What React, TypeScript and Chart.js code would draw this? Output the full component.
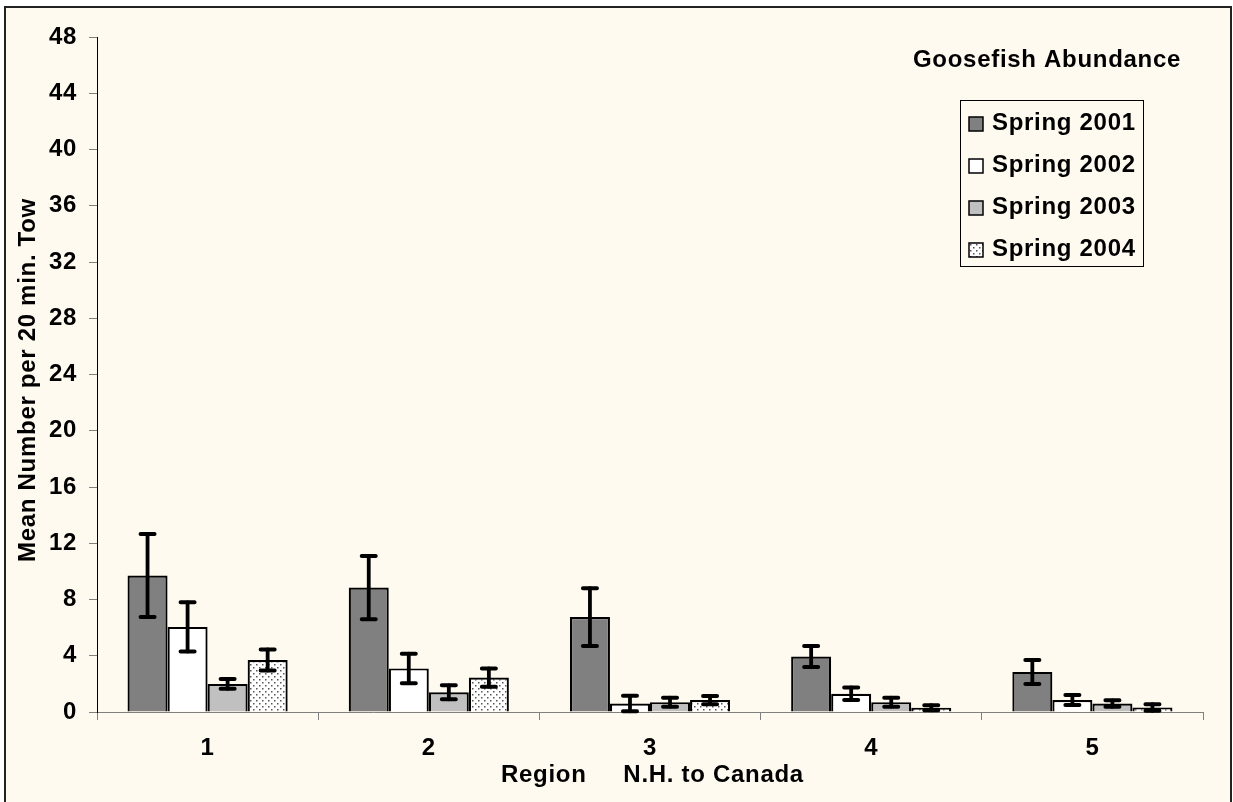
import React, { useEffect, useRef } from "react";
import { Chart, registerables } from "chart.js";

Chart.register(...registerables);

const categories = ["1", "2", "3", "4", "5"];
const seriesNames = ["Spring 2001", "Spring 2002", "Spring 2003", "Spring 2004"];
const spring2001 = [9.7, 8.85, 6.75, 3.95, 2.85];
const spring2002 = [6.05, 3.1, 0.6, 1.3, 0.85];
const spring2003 = [2.0, 1.4, 0.7, 0.7, 0.6];
const spring2004 = [3.7, 2.45, 0.85, 0.3, 0.32];
const err2001 = [2.95, 2.25, 2.05, 0.75, 0.85];
const err2002 = [1.75, 1.05, 0.55, 0.45, 0.36];
const err2003 = [0.35, 0.5, 0.32, 0.32, 0.23];
const err2004 = [0.75, 0.65, 0.29, 0.18, 0.23];
const yTicks = [0, 4, 8, 12, 16, 20, 24, 28, 32, 36, 40, 44, 48];
const chartTitle = "Goosefish Abundance";
const yTitle = "Mean Number per 20 min. Tow";
const xTitle = "Region     N.H. to Canada";

const CREAM = "#FFFAF0";
const FONT = "'Liberation Sans', Arial, sans-serif";
const SPACING = "0.7px";

function makeDotPattern(ctx: CanvasRenderingContext2D) {
  const c = document.createElement("canvas");
  c.width = 6;
  c.height = 6;
  const p = c.getContext("2d")!;
  p.fillStyle = "#ffffff";
  p.fillRect(0, 0, 6, 6);
  p.fillStyle = "#555555";
  p.fillRect(1, 1, 1.5, 1.5);
  p.fillRect(4, 4, 1.5, 1.5);
  return ctx.createPattern(c, "repeat");
}

export default function App() {
  const ref = useRef<HTMLCanvasElement | null>(null);

  useEffect(() => {
    const canvas = ref.current!;
    const ctx = canvas.getContext("2d")!;
    const pattern = makeDotPattern(ctx);
    const values = [spring2001, spring2002, spring2003, spring2004];
    const errors = [err2001, err2002, err2003, err2004];
    const fills: any[] = ["#808080", "#FFFFFF", "#C0C0C0", pattern];

    const bgPlugin = {
      id: "bg",
      beforeDraw(chart: any) {
        const c = chart.ctx;
        c.save();
        c.fillStyle = "#ffffff";
        c.fillRect(0, 0, chart.width, chart.height);
        c.fillStyle = CREAM;
        c.fillRect(5, 7, 1226, 800);
        c.strokeStyle = "#222222";
        c.lineWidth = 2;
        c.strokeRect(5, 7, 1226, 810);
        c.restore();
        c.letterSpacing = SPACING;
      },
    };

    const errPlugin = {
      id: "errbars",
      afterDatasetsDraw(chart: any) {
        const c = chart.ctx;
        const ys = chart.scales.y;
        c.save();
        c.strokeStyle = "#000000";
        c.lineCap = "round";
        values.forEach((vals, di) => {
          const meta = chart.getDatasetMeta(di);
          meta.data.forEach((el: any, i: number) => {
            const v = vals[i];
            const e = errors[di][i];
            const top = ys.getPixelForValue(v + e);
            const bot = ys.getPixelForValue(Math.max(v - e, 0));
            c.lineWidth = 3.8;
            c.beginPath();
            c.moveTo(el.x, top);
            c.lineTo(el.x, bot);
            c.stroke();
            c.lineWidth = 4;
            c.beginPath();
            c.moveTo(el.x - 7, top);
            c.lineTo(el.x + 7, top);
            c.moveTo(el.x - 7, bot);
            c.lineTo(el.x + 7, bot);
            c.stroke();
          });
        });
        c.restore();
      },
    };

    const textPlugin = {
      id: "texts",
      afterDraw(chart: any) {
        const c = chart.ctx;
        c.save();
        c.letterSpacing = SPACING;
        c.fillStyle = "#000000";
        c.font = `bold 24px ${FONT}`;
        c.textBaseline = "alphabetic";
        c.textAlign = "left";
        c.fillText(chartTitle, 913, 67);
        c.fillText(xTitle, 501, 782);
        c.save();
        c.translate(35, 380);
        c.rotate(-Math.PI / 2);
        c.textAlign = "center";
        c.fillText(yTitle, 0, 0);
        c.restore();
        c.strokeStyle = "#000000";
        c.lineWidth = 1;
        c.strokeRect(960.5, 100.5, 183, 166);
        const baselines = [130, 172, 214, 256];
        seriesNames.forEach((name, i) => {
          const by = baselines[i];
          c.fillStyle = fills[i];
          c.fillRect(969, by - 13, 14, 14);
          c.strokeStyle = "#000000";
          c.lineWidth = 1.5;
          c.strokeRect(969, by - 13, 14, 14);
          c.fillStyle = "#000000";
          c.textAlign = "left";
          c.fillText(name, 992, by);
        });
        c.restore();
      },
    };

    const chart = new Chart(canvas, {
      type: "bar",
      data: {
        labels: categories,
        datasets: values.map((vals, i) => ({
          label: seriesNames[i],
          data: vals,
          backgroundColor: fills[i],
          borderColor: "#000000",
          borderWidth: 2.2,
          barPercentage: 1.0,
          categoryPercentage: 0.724,
        })),
      },
      options: {
        responsive: false,
        animation: false,
        devicePixelRatio: 1,
        layout: { padding: { left: 0, top: 37, right: 30, bottom: 0 } },
        plugins: {
          legend: { display: false },
          tooltip: { enabled: false },
          title: { display: false },
        },
        scales: {
          x: {
            grid: {
              display: true,
              drawOnChartArea: false,
              drawTicks: true,
              tickLength: 8,
              color: "#808080",
              offset: true,
            },
            border: { display: true, color: "#808080", width: 1 },
            ticks: {
              color: "#000000",
              font: { family: FONT, size: 24, weight: "bold" },
              padding: 14,
            },
            afterFit: (s: any) => {
              s.height = 90;
            },
          },
          y: {
            min: 0,
            max: 48,
            afterBuildTicks: (s: any) => {
              s.ticks = yTicks.map((v) => ({ value: v }));
            },
            grid: {
              display: true,
              drawOnChartArea: false,
              drawTicks: true,
              tickLength: 8,
              color: "#808080",
            },
            border: { display: true, color: "#000000", width: 1 },
            ticks: {
              color: "#000000",
              font: { family: FONT, size: 24, weight: "bold" },
              padding: 12,
            },
            afterFit: (s: any) => {
              s.width = 97;
            },
          },
        },
      },
      plugins: [bgPlugin, errPlugin, textPlugin],
    } as any);

    return () => chart.destroy();
  }, []);

  return (
    <div style={{ position: "absolute", left: 0, top: 0, width: 1233, height: 802 }}>
      <canvas ref={ref} width={1233} height={802} style={{ display: "block" }} />
    </div>
  );
}
